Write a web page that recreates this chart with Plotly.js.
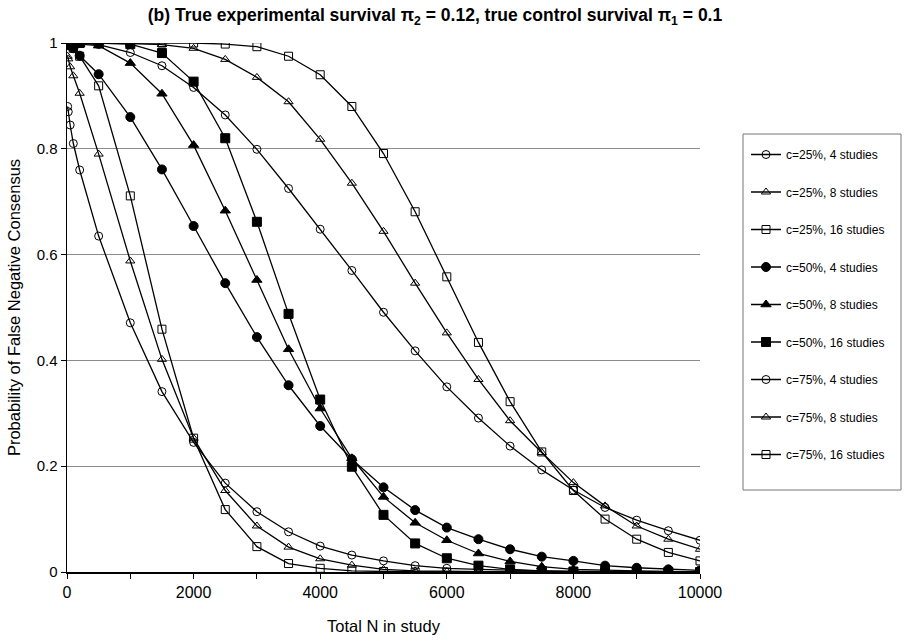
<!DOCTYPE html>
<html>
<head>
<meta charset="utf-8">
<script src="https://cdn.plot.ly/plotly-3.0.1.min.js"></script>
<style>html,body{margin:0;padding:0;background:#fff;}#chart{width:911px;height:641px;}</style>
</head>
<body>
<div id="chart"></div>
<script>
// Total N in study
var totalN = [10, 20, 50, 100, 200, 500, 1000, 1500, 2000, 2500, 3000, 3500, 4000, 4500, 5000, 5500, 6000, 6500, 7000, 7500, 8000, 8500, 9000, 9500, 10000];

var seriesNames = ["c=25%, 4 studies", "c=25%, 8 studies", "c=25%, 16 studies",
                   "c=50%, 4 studies", "c=50%, 8 studies", "c=50%, 16 studies",
                   "c=75%, 4 studies", "c=75%, 8 studies", "c=75%, 16 studies"];

var c25_4  = [0.88, 0.87, 0.845, 0.81, 0.76, 0.635, 0.471, 0.341, 0.245, 0.168, 0.114, 0.076, 0.049, 0.032, 0.021, 0.012, 0.007, 0.005, 0.003, 0.002, 0.001, 0.001, 0.0, 0.0, 0.0];
var c25_8  = [0.975, 0.97, 0.955, 0.938, 0.905, 0.79, 0.588, 0.402, 0.253, 0.154, 0.087, 0.047, 0.025, 0.013, 0.005, 0.002, 0.001, 0.0, 0.0, 0.0, 0.0, 0.0, 0.0, 0.0, 0.0];
var c25_16 = [1.0, 0.998, 0.995, 0.99, 0.975, 0.919, 0.711, 0.459, 0.253, 0.118, 0.048, 0.016, 0.007, 0.002, 0.001, 0.0, 0.0, 0.0, 0.0, 0.0, 0.0, 0.0, 0.0, 0.0, 0.0];
var c50_4  = [1.0, 0.998, 0.995, 0.99, 0.976, 0.941, 0.860, 0.761, 0.654, 0.546, 0.444, 0.353, 0.276, 0.213, 0.160, 0.117, 0.084, 0.062, 0.043, 0.029, 0.021, 0.012, 0.008, 0.005, 0.003];
var c50_8  = [1.0, 1.0, 1.0, 0.999, 0.998, 0.995, 0.962, 0.904, 0.807, 0.683, 0.552, 0.421, 0.309, 0.215, 0.142, 0.093, 0.060, 0.035, 0.020, 0.010, 0.005, 0.003, 0.002, 0.001, 0.0];
var c50_16 = [1.0, 1.0, 1.0, 1.0, 1.0, 1.0, 0.998, 0.981, 0.927, 0.820, 0.662, 0.488, 0.326, 0.199, 0.108, 0.054, 0.026, 0.012, 0.005, 0.002, 0.001, 0.0, 0.0, 0.0, 0.0];
var c75_4  = [1.0, 1.0, 1.0, 1.0, 1.0, 0.997, 0.982, 0.957, 0.916, 0.864, 0.799, 0.725, 0.648, 0.570, 0.491, 0.418, 0.350, 0.291, 0.238, 0.193, 0.155, 0.122, 0.098, 0.078, 0.060];
var c75_8  = [1.0, 1.0, 1.0, 1.0, 1.0, 1.0, 0.999, 0.997, 0.990, 0.969, 0.935, 0.889, 0.818, 0.735, 0.644, 0.546, 0.452, 0.364, 0.286, 0.226, 0.169, 0.125, 0.087, 0.062, 0.043];
var c75_16 = [1.0, 1.0, 1.0, 1.0, 1.0, 1.0, 1.0, 1.0, 1.0, 0.998, 0.993, 0.975, 0.940, 0.880, 0.791, 0.681, 0.558, 0.434, 0.322, 0.227, 0.154, 0.100, 0.062, 0.037, 0.021];

var seriesValues = [c25_4, c25_8, c25_16, c50_4, c50_8, c50_16, c75_4, c75_8, c75_16];
var markerSymbols = ["circle-open", "triangle-up-open", "square-open",
                     "circle", "triangle-up", "square",
                     "circle-open", "triangle-up-open", "square-open"];

var traces = seriesValues.map(function (vals, i) {
  var filled = markerSymbols[i].indexOf("open") < 0;
  return {
    x: totalN,
    y: vals,
    name: seriesNames[i],
    legendgroup: "g" + i,
    type: "scatter",
    mode: "lines+markers",
    line: {color: "#000", width: 1.3},
    marker: {
      symbol: markerSymbols[i],
      size: filled ? 9 : 8,
      color: "#000",
      line: {color: "#000", width: 1}
    }
  };
});

var layout = {
  width: 911,
  height: 641,
  margin: {l: 67, r: 211, t: 43, b: 69},
  paper_bgcolor: "#fff",
  plot_bgcolor: "#fff",
  font: {family: "Liberation Sans, Arial, sans-serif", color: "#000", size: 14},
  title: {
    text: "<b>(b) True experimental survival π<sub>2</sub> = 0.12, true control survival π<sub>1</sub> = 0.1</b>",
    font: {size: 17.5, family: "Liberation Sans, Arial, sans-serif"},
    x: 435 / 911, xanchor: "center", xref: "container",
    y: 1 - 15 / 641, yanchor: "middle", yref: "container"
  },
  xaxis: {
    title: {text: "Total N in study", font: {size: 16.5}, standoff: 20},
    range: [0, 10000],
    dtick: 2000,
    tick0: 0,
    tickformat: "d",
    ticks: "outside",
    ticklen: 5,
    tickcolor: "#000",
    showline: true,
    linecolor: "#000",
    linewidth: 1.5,
    showgrid: false,
    zeroline: false,
    minor: {dtick: 1000, ticks: "outside", ticklen: 5, tickcolor: "#000", showgrid: false},
    tickfont: {size: 16}
  },
  yaxis: {
    title: {text: "Probability of False Negative Consensus", font: {size: 16.5}, standoff: 12},
    range: [0, 1],
    dtick: 0.2,
    ticks: "outside",
    ticklen: 5,
    tickcolor: "#000",
    showline: true,
    linecolor: "#000",
    linewidth: 1.5,
    showgrid: true,
    gridcolor: "#8c8c8c",
    gridwidth: 1,
    zeroline: false,
    tickfont: {size: 15}
  },
  shapes: [{
    type: "rect", xref: "paper", yref: "paper",
    x0: (743 - 67) / 633, x1: (901 - 67) / 633,
    y0: (572 - 490) / 529, y1: (572 - 134) / 529,
    line: {color: "#777", width: 1},
    fillcolor: "rgba(0,0,0,0)",
    layer: "below"
  }],
  showlegend: true,
  legend: {
    x: 746 / 911, xref: "container", xanchor: "left",
    y: 1 - 140 / 641, yref: "container", yanchor: "top",
    bgcolor: "rgba(0,0,0,0)",
    borderwidth: 0,
    font: {size: 12, family: "Liberation Sans, Arial, sans-serif"},
    tracegroupgap: 18.5,
    itemwidth: 30
  }
};

Plotly.newPlot("chart", traces, layout, {displayModeBar: false, staticPlot: true});
</script>
</body>
</html>
